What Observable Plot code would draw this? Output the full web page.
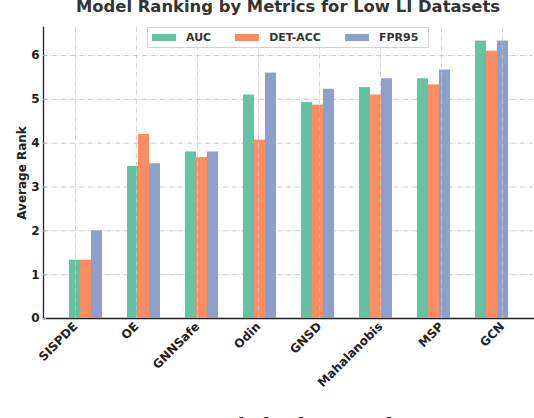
<!DOCTYPE html>
<html>
<head>
<meta charset="utf-8">
<script src="https://cdn.jsdelivr.net/npm/d3@7"></script>
<script src="https://cdn.jsdelivr.net/npm/@observablehq/plot@0.6"></script>
<style>
  body { margin: 0; background: #fff; }
  #wrap { position: relative; width: 534px; height: 418px; overflow: hidden; font-family: "DejaVu Sans", sans-serif; }
  #title { position: absolute; left: 43px; width: 490px; top: -1px; text-align: center; font: bold 16.4px/16px "DejaVu Sans"; color: #333; white-space: nowrap; }
  .layer { position: absolute; left: 0; top: 0; }
  #legend { position: absolute; left: 147px; top: 27px; width: 282px; height: 21px; box-sizing: border-box;
            border: 1px solid #d2d2d2; border-radius: 2px; background: #fff; padding-left: 4px;
            display: flex; align-items: center; overflow: hidden; }
  #legend .lg-swatches-wrap { margin: 0; min-height: 0; display: flex; flex-wrap: nowrap; align-items: center;
            font: bold 11px "DejaVu Sans"; color: #333; white-space: nowrap; width: max-content; }
  #legend .lg-swatch { margin-right: 24px; display: inline-flex; align-items: center; white-space: nowrap; }
  #legend .lg-swatch > svg { margin-right: 10px; }
  #caption { position: absolute; left: 0; top: 416px; font: 27.5px/22px "Liberation Serif", serif; color: #111; white-space: nowrap; }
</style>
</head>
<body>
<div id="wrap">
  <div id="bg" class="layer"></div>
  <div id="fg" class="layer"></div>
  <div id="over" class="layer"></div>
  <div id="title">Model Ranking by Metrics for Low LI Datasets</div>
  <div id="legend"></div>
  <div id="caption">Figure 2: Average rank for low LI datasets. S</div>
</div>
<script>
const models = ["SISPDE", "OE", "GNNSafe", "Odin", "GNSD", "Mahalanobis", "MSP", "GCN"];
const metrics = ["AUC", "DET-ACC", "FPR95"];
const auc    = [1.33, 3.47, 3.80, 5.10, 4.93, 5.27, 5.47, 6.33];
const detAcc = [1.33, 4.20, 3.67, 4.07, 4.87, 5.10, 5.33, 6.10];
const fpr95  = [2.00, 3.53, 3.80, 5.60, 5.23, 5.47, 5.67, 6.33];
const colors = ["#66c2a5", "#fc8d62", "#8da0cb"];
const yTicks = [0, 1, 2, 3, 4, 5, 6];

const series = [auc, detAcc, fpr95];
const rows = models.flatMap((m, i) => series.map((s, j) => ({model: m, metric: metrics[j], value: s[i]})));

const dash = "5,1.5,1,1.5";
const frame = {width: 534, height: 400, marginTop: 27, marginBottom: 82, marginLeft: 43, marginRight: 1};
const band = {domain: models, paddingInner: 0.4, paddingOuter: 0.38};
const yScale = {domain: [0, 6.64]};
const font = {fontFamily: "DejaVu Sans", fontWeight: "bold", fontSize: "12px", color: "#222", background: "transparent"};

// back layer: horizontal grid, spines, axes
const bg = Plot.plot({
  ...frame,
  style: font,
  x: {...band, label: null},
  y: {...yScale, label: null},
  marks: [
    Plot.gridY(yTicks, {stroke: "#c4c4c4", strokeOpacity: 1, strokeWidth: 0.9, strokeDasharray: dash}),
    Plot.frame({anchor: "left", stroke: "#222", strokeWidth: 1.3}),
    Plot.frame({anchor: "bottom", stroke: "#222", strokeWidth: 1.3}),
    Plot.axisY(yTicks, {tickSize: -3, tickPadding: 7, stroke: "#aaa", tickFormat: d => d,
      label: "Average Rank", labelAnchor: "center", labelArrow: "none", labelOffset: 26}),
    Plot.axisX(models, {tickRotate: -45, tickSize: -3, tickPadding: 9, stroke: "#aaa", label: null})
  ]
});
document.getElementById("bg").append(bg);

// middle layer: grouped bars
const bars = Plot.plot({
  ...frame,
  style: {background: "transparent"},
  fx: {...band, axis: null, label: null},
  x: {domain: metrics, padding: 0, axis: null},
  y: {...yScale, axis: null},
  color: {domain: metrics, range: colors},
  marks: [
    Plot.barY(rows, {fx: "model", x: "metric", y: "value", fill: "metric"})
  ]
});
document.getElementById("fg").append(bars);

// top layer: vertical grid over the bars
const vgrid = Plot.plot({
  ...frame,
  style: {background: "transparent"},
  x: {...band, axis: null},
  y: {...yScale, axis: null},
  marks: [
    Plot.gridX(models, {stroke: "#c8c8c8", strokeOpacity: 0.8, strokeWidth: 0.9, strokeDasharray: dash})
  ]
});
document.getElementById("over").append(vgrid);

const legend = Plot.legend({
  color: {domain: metrics, range: colors},
  legend: "swatches",
  swatchWidth: 24,
  swatchHeight: 7,
  className: "lg"
});
document.getElementById("legend").append(legend);
</script>
</body>
</html>
